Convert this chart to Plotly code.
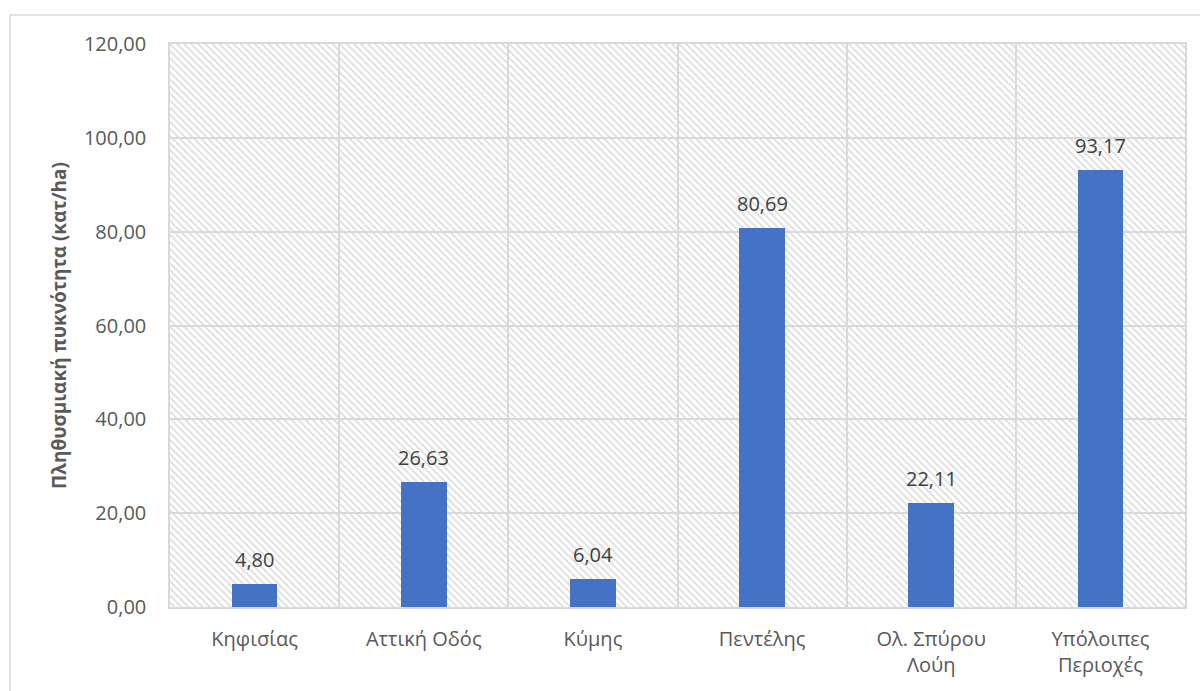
import plotly.graph_objects as go

categories = ["Κηφισίας", "Αττική Οδός", "Κύμης", "Πεντέλης", "Ολ. Σπύρου<br>Λούη", "Υπόλοιπες<br>Περιοχές"]
values = [4.80, 26.63, 6.04, 80.69, 22.11, 93.17]
y_ticks = [0, 20, 40, 60, 80, 100, 120]
y_title = "Πληθυσμιακή πυκνότητα (κατ/ha)"

FONT = "Open Sans"
GRID = "#d9d9d9"
y_max = y_ticks[-1]

fig = go.Figure()

# hatched plot-area background
fig.add_trace(go.Bar(
    x=categories, y=[y_max] * len(categories), width=1,
    marker=dict(color="rgba(0,0,0,0)", line=dict(width=0),
                pattern=dict(shape="\\", fgcolor="#d9d9d9", fgopacity=1,
                             size=5, solidity=0.3, fillmode="overlay")),
    hoverinfo="skip", showlegend=False,
))

fig.add_trace(go.Bar(
    x=categories, y=values, width=0.27,
    marker=dict(color="#4472C4", line=dict(width=0)),
    showlegend=False,
))

for c, v in zip(categories, values):
    fig.add_annotation(x=c, y=v, text=f"{v:.2f}".replace(".", ","),
                       showarrow=False, yanchor="bottom", yshift=9,
                       font=dict(family=FONT, size=20, color="#404040"))

# outer chart border
fig.add_shape(type="rect", xref="paper", yref="paper",
              x0=-0.1576, x1=1.03, y0=1.0515, y1=-0.2,
              line=dict(color=GRID, width=1.5), fillcolor="rgba(0,0,0,0)", layer="below")

fig.update_layout(
    width=1200, height=691,
    margin=dict(l=170, r=15, t=44, b=84),
    paper_bgcolor="white", plot_bgcolor="white",
    barmode="overlay", bargap=0,
    font=dict(family=FONT, size=20, color="#595959"),
    xaxis=dict(
        type="category", tickson="boundaries", showgrid=True, gridcolor=GRID, gridwidth=1.5,
        showline=True, linecolor=GRID, linewidth=1.5, mirror=True,
        ticks="", ticklabelstandoff=13, automargin=False,
        tickfont=dict(family=FONT, size=20, color="#595959"),
        range=[-0.5, len(categories) - 0.5], fixedrange=True,
    ),
    yaxis=dict(
        range=[0, y_max], tickvals=y_ticks, tickformat=".2f",
        showgrid=True, gridcolor=GRID, gridwidth=1.5, zeroline=False,
        showline=True, linecolor=GRID, linewidth=1.5, mirror=True,
        ticks="outside", ticklen=18, tickcolor="rgba(0,0,0,0)",
        tickfont=dict(family=FONT, size=20, color="#595959"),
        title=dict(text=f"<b>{y_title}</b>", font=dict(family=FONT, size=19, color="#595959"),
                   standoff=12),
    ),
    separators=",.",
)

fig.write_html("out.html")
